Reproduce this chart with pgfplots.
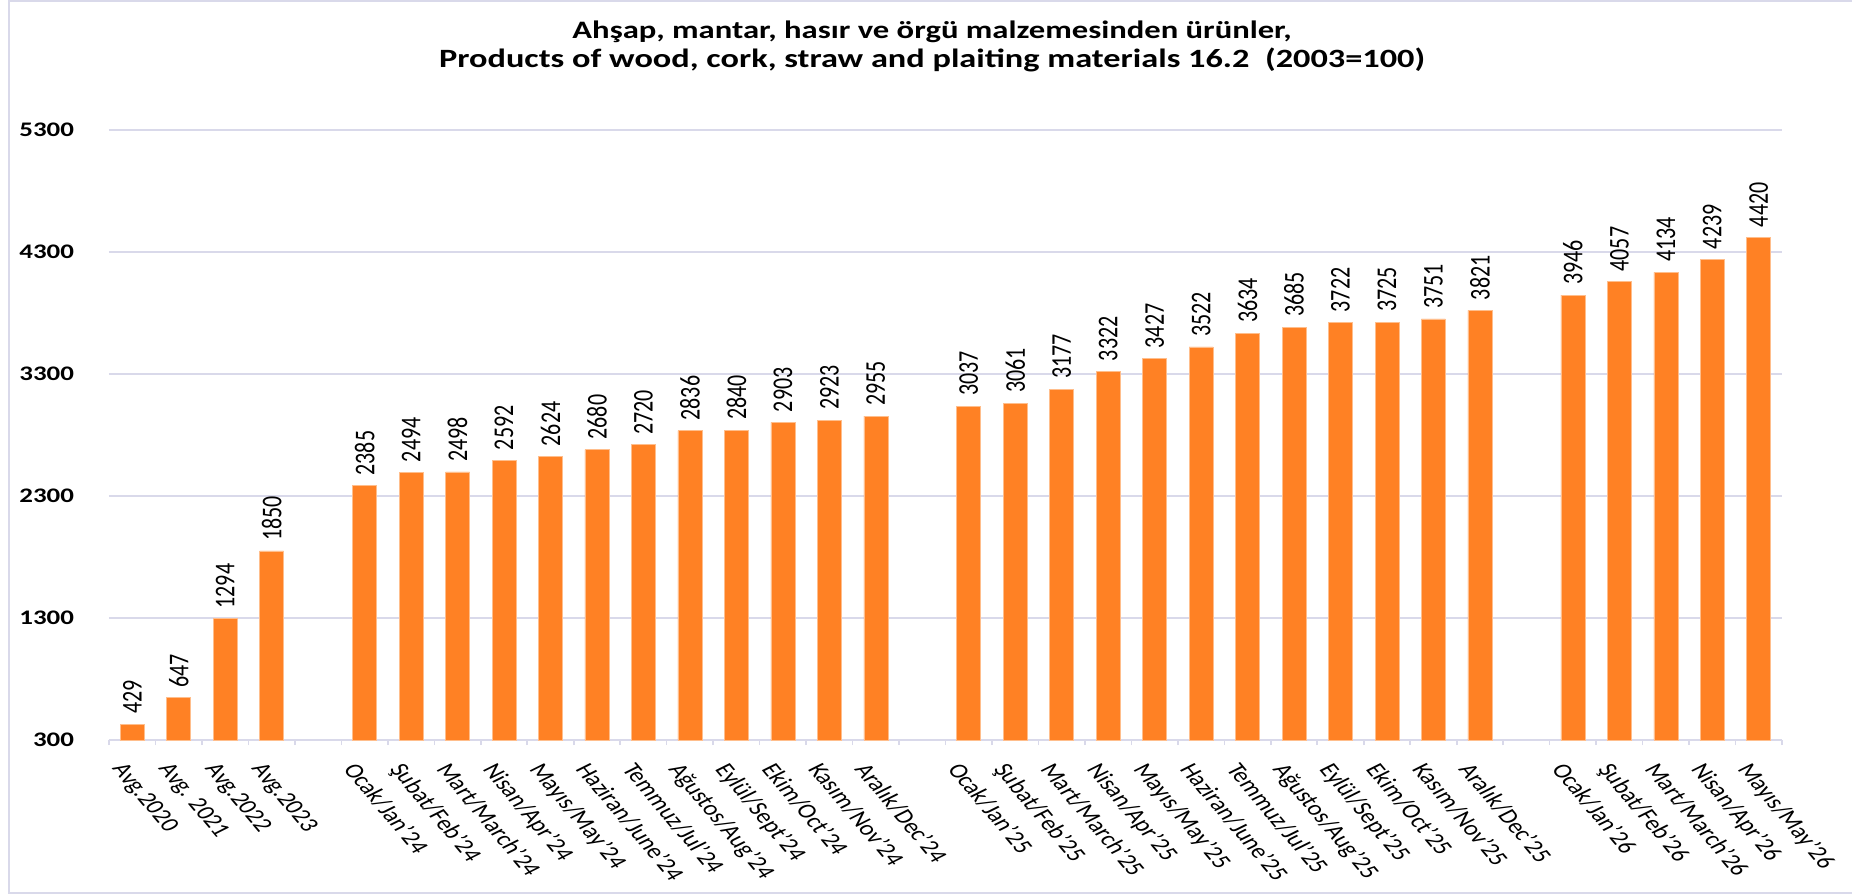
\documentclass[border=0pt]{standalone}
\usepackage{fontspec}
\setmainfont{Carlito}
\usepackage{pgfplots}
\pgfplotsset{compat=1.18}
\definecolor{barc}{RGB}{255,129,36}
\definecolor{barl}{RGB}{255,190,140}
\definecolor{gridc}{RGB}{217,217,234}

\begin{document}
\begin{tikzpicture}
\useasboundingbox (-54.5pt,-77.5pt) rectangle (871.5pt,370pt);
\begin{axis}[
  at={(0,0)}, anchor=south west,
  scale only axis,
  width=836.5pt, height=305pt,
  xmin=-0.5, xmax=35.5,
  ymin=300, ymax=5300,
  ytick={300,1300,2300,3300,4300,5300},
  ymajorgrids,
  grid style={gridc, line width=0.6pt},
  axis x line*=bottom,
  axis y line*=left,
  y axis line style={draw=none},
  x axis line style={gridc, line width=0.8pt},
  ytick style={draw=none},
  major x tick style={draw=none},
  minor x tick style={gridc, line width=0.8pt},
  minor xtick={-0.5,0.5,...,35.5},
  minor tick length=2.5pt,
  tick align=outside,
  xtick={0,1,2,3,5,6,7,8,9,10,11,12,13,14,15,16,18,19,20,21,22,23,24,25,26,27,28,29,31,32,33,34,35},
  xticklabels={Avg.2020, Avg. 2021, Avg.2022, Avg.2023,
    Ocak/Jan’24, Şubat/Feb’24, Mart/March’24, Nisan/Apr’24, Mayıs/May’24, Haziran/June’24,
    Temmuz/Jul’24, Ağustos/Aug’24, Eylül/Sept’24, Ekim/Oct’24, Kasım/Nov’24, Aralık/Dec’24,
    Ocak/Jan’25, Şubat/Feb’25, Mart/March’25, Nisan/Apr’25, Mayıs/May’25, Haziran/June’25,
    Temmuz/Jul’25, Ağustos/Aug’25, Eylül/Sept’25, Ekim/Oct’25, Kasım/Nov’25, Aralık/Dec’25,
    Ocak/Jan’26, Şubat/Feb’26, Mart/March’26, Nisan/Apr’26, Mayıs/May’26},
  xticklabel style={font=\fontsize{10.3}{12}\selectfont, anchor=north west, inner sep=0pt,
    xshift=-3pt, yshift=-6pt, xscale=1.3, rotate=-57},
  yticklabel style={font=\bfseries\fontsize{10.35}{12}\selectfont, anchor=east, inner sep=0pt,
    xshift=-13pt, xscale=1.3},
  /pgf/number format/assume math mode=true,
  /pgf/number format/1000 sep={},
  title={Ahşap, mantar, hasır ve örgü malzemesinden ürünler,\\[-0.5pt]{\fontsize{13.2}{15}\selectfont Products of wood, cork, straw and plaiting materials 16.2\ \ (2003=100)}},
  title style={at={(0.492,1.137)}, anchor=center, align=center, inner sep=0pt, yshift=-6pt,
    font=\bfseries\fontsize{12.55}{15}\selectfont, xscale=1.3},
  ybar, bar width=12pt,
  nodes near coords,
  every node near coord/.append style={font=\fontsize{11}{11}\selectfont, text=black,
    xscale=1.3, rotate=90, anchor=west, inner xsep=5pt, inner ysep=0pt},
]
\addplot[fill=barc, draw=barl, line width=0.3pt] coordinates {
  (0,429) (1,647) (2,1294) (3,1850)
  (5,2385) (6,2494) (7,2498) (8,2592) (9,2624) (10,2680)
  (11,2720) (12,2836) (13,2840) (14,2903) (15,2923) (16,2955)
  (18,3037) (19,3061) (20,3177) (21,3322) (22,3427) (23,3522)
  (24,3634) (25,3685) (26,3722) (27,3725) (28,3751) (29,3821)
  (31,3946) (32,4057) (33,4134) (34,4239) (35,4420)
};
\end{axis}
\draw[gridc, line width=1pt] (-50pt,-76.5pt) rectangle (880pt,369.5pt);
\end{tikzpicture}
\end{document}
